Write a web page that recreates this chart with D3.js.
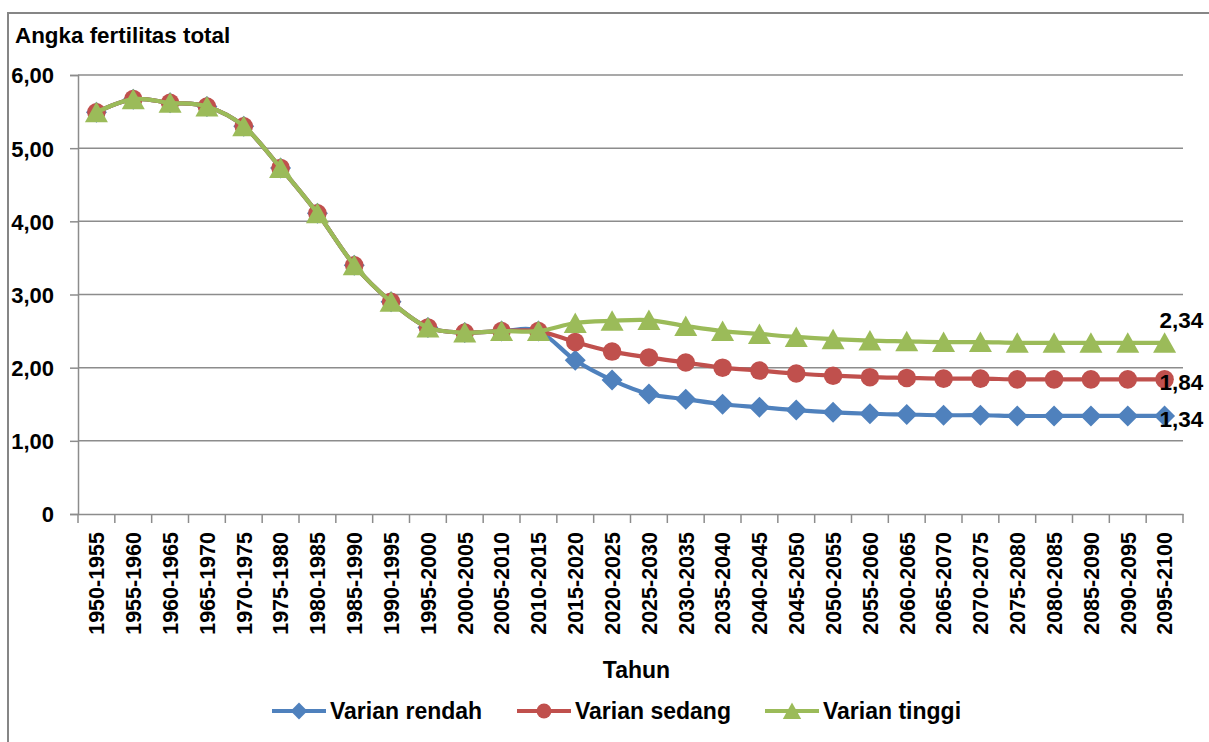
<!DOCTYPE html>
<html>
<head>
<meta charset="utf-8">
<script src="https://cdn.jsdelivr.net/npm/d3@7"></script>
<style>
  body { margin: 0; background: #fff; }
  text { font-family: "Liberation Sans", Arial, sans-serif; font-weight: bold; fill: #000; }
</style>
</head>
<body>
<div id="myChart"></div>
<script>
const categories = ["1950-1955","1955-1960","1960-1965","1965-1970","1970-1975","1975-1980",
  "1980-1985","1985-1990","1990-1995","1995-2000","2000-2005","2005-2010","2010-2015",
  "2015-2020","2020-2025","2025-2030","2030-2035","2035-2040","2040-2045","2045-2050",
  "2050-2055","2055-2060","2060-2065","2065-2070","2070-2075","2075-2080","2080-2085",
  "2085-2090","2090-2095","2095-2100"];

const rendah = [5.49,5.67,5.62,5.57,5.30,4.73,4.11,3.40,2.90,2.55,2.48,2.50,2.50,
  2.10,1.83,1.64,1.57,1.50,1.46,1.42,1.39,1.37,1.36,1.35,1.35,1.34,1.34,1.34,1.34,1.34];
const sedang = [5.49,5.67,5.62,5.57,5.30,4.73,4.11,3.40,2.90,2.55,2.48,2.50,2.50,
  2.35,2.22,2.14,2.07,2.00,1.96,1.92,1.89,1.87,1.86,1.85,1.85,1.84,1.84,1.84,1.84,1.84];
const tinggi = [5.49,5.67,5.62,5.57,5.30,4.73,4.11,3.40,2.90,2.55,2.48,2.50,2.50,
  2.61,2.64,2.65,2.57,2.50,2.46,2.42,2.39,2.37,2.36,2.35,2.35,2.34,2.34,2.34,2.34,2.34];

const yTicks = [0,1,2,3,4,5,6];
const seriesNames = ["Varian rendah","Varian sedang","Varian tinggi"];
const endLabels = ["1,34","1,84","2,34"];

const W = 1209, H = 742;
const margin = { top: 75, right: 26, bottom: 228, left: 78 },
  width = W - margin.left - margin.right,
  height = H - margin.top - margin.bottom;

const svg = d3.select("#myChart").append("svg")
  .attr("width", W).attr("height", H);

// bingkai luar
svg.append("rect")
  .attr("x", 8).attr("y", 13).attr("width", W + 20).attr("height", H + 20)
  .attr("fill", "none").attr("stroke", "#868686").attr("stroke-width", 2);

const g = svg.append("g")
  .attr("transform", "translate(" + margin.left + "," + margin.top + ")");

const x = d3.scaleBand().domain(categories).range([0, width]).padding(0);
const y = d3.scaleLinear().domain([0, 6]).range([height, 0]);
const cx = (c) => x(c) + x.bandwidth() / 2;

// gridlines
g.selectAll(".grid").data(yTicks.filter(d => d > 0)).enter().append("line")
  .attr("x1", 0).attr("x2", width)
  .attr("y1", d => y(d)).attr("y2", d => y(d))
  .attr("stroke", "#8c8c8c").attr("stroke-width", 1.5);

// y axis
const yAxis = g.append("g")
  .call(d3.axisLeft(y).tickValues(yTicks).tickSize(8)
    .tickFormat(d => d === 0 ? "0" : d3.format(".2f")(d).replace(".", ",")));
yAxis.select(".domain").attr("stroke", "#8c8c8c").attr("stroke-width", 1.5);
yAxis.selectAll(".tick line").attr("stroke", "#8c8c8c").attr("stroke-width", 1.5);
yAxis.selectAll("text").attr("x", -24).attr("dy", "0.36em").style("font-size", "22px")
  .style("font-family", '"Liberation Sans", Arial, sans-serif');

// x axis
const xAxis = g.append("g").attr("transform", "translate(0," + height + ")")
  .call(d3.axisBottom(x).tickSize(0).tickSizeOuter(0));
xAxis.select(".domain").attr("stroke", "#8c8c8c").attr("stroke-width", 1.5);
xAxis.selectAll("text")
  .attr("transform", "rotate(-90)")
  .attr("x", -18).attr("y", 0).attr("dy", "0.36em")
  .style("text-anchor", "end")
  .style("font-size", "21.5px")
  .style("font-family", '"Liberation Sans", Arial, sans-serif');
// tick di batas kategori
const bounds = categories.map(c => x(c)).concat([width]);
xAxis.selectAll(".btick").data(bounds).enter().append("line")
  .attr("x1", d => d).attr("x2", d => d).attr("y1", 0).attr("y2", 9)
  .attr("stroke", "#8c8c8c").attr("stroke-width", 1.5);

// lines & markers
const series = [
  { name: seriesNames[0], values: rendah, color: "#4F81BD", symbol: "diamond" },
  { name: seriesNames[1], values: sedang, color: "#C0504D", symbol: "circle" },
  { name: seriesNames[2], values: tinggi, color: "#9BBB59", symbol: "triangle" }
];

const line = d3.line()
  .x((d, i) => cx(categories[i]))
  .y(d => y(d))
  .curve(d3.curveCardinal.tension(0));

const shapes = {
  diamond: "M0,-10.5L10.5,0L0,10.5L-10.5,0Z",
  circle: d3.symbol().type(d3.symbolCircle).size(270)(),
  triangle: "M0,-10.5L11.5,10L-11.5,10Z"
};

series.forEach(s => {
  g.append("path").datum(s.values)
    .attr("fill", "none").attr("stroke", s.color)
    .attr("stroke-width", 4.2).attr("stroke-linejoin", "round")
    .attr("d", line);
  g.selectAll(".m-" + s.symbol).data(s.values).enter().append("path")
    .attr("class", "m-" + s.symbol)
    .attr("fill", s.color)
    .attr("d", shapes[s.symbol])
    .attr("transform", (d, i) => "translate(" + cx(categories[i]) + "," + y(d) + ")");
});

// label nilai akhir
const lastCat = categories[categories.length - 1];
g.selectAll(".endlabel").data(series).enter().append("text")
  .attr("x", cx(lastCat) - 5)
  .attr("y", (d, i) => y(d.values[d.values.length - 1]) + (i === 2 ? -15 : 11))
  .style("font-size", "22.5px")
  .text((d, i) => endLabels[i]);

// judul
svg.append("text").attr("x", 15).attr("y", 43)
  .style("font-size", "22.4px").text("Angka fertilitas total");

svg.append("text").attr("x", margin.left + width / 2 + 6).attr("y", 678)
  .style("text-anchor", "middle").style("font-size", "23px").text("Tahun");

// legend
const legendX = [272, 517, 765];
const legend = svg.selectAll(".legend").data(series).enter().append("g")
  .attr("transform", (d, i) => "translate(" + legendX[i] + ",711)");
legend.append("line").attr("x1", 0).attr("x2", 54)
  .attr("stroke", d => d.color).attr("stroke-width", 4.2);
legend.append("path").attr("fill", d => d.color)
  .attr("transform", "translate(27,0) scale(0.8)")
  .attr("d", d => shapes[d.symbol]);
legend.append("text").attr("x", 58).attr("dy", "0.36em")
  .style("font-size", "23px").text(d => d.name);
</script>
</body>
</html>
